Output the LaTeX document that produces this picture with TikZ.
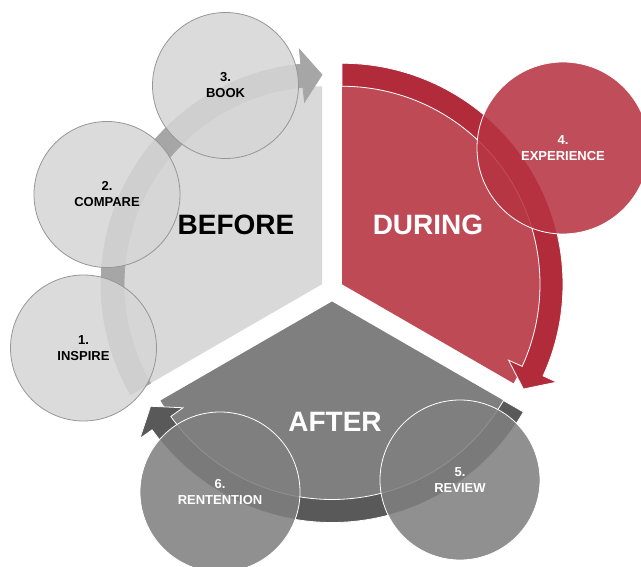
\documentclass[tikz,border=0pt]{standalone}
\usepackage{fontspec}
\setmainfont{Liberation Sans}
\usetikzlibrary{positioning}
\definecolor{beforegray}{RGB}{217, 217, 217}
\definecolor{beforeband}{RGB}{166, 166, 166}
\definecolor{beforecircle}{RGB}{214, 214, 214}
\definecolor{beforeedge}{RGB}{150, 150, 150}
\definecolor{duringred}{RGB}{190, 74, 86}
\definecolor{duringband}{RGB}{178, 43, 59}
\definecolor{duringcircle}{RGB}{183, 52, 65}
\definecolor{aftergray}{RGB}{127, 127, 127}
\definecolor{afterband}{RGB}{89, 89, 89}
\definecolor{aftercircle}{RGB}{128, 128, 128}
% curved band arrow round one phase: apex, start angle, tip angle, fill, edge
\newcommand{\phasearrow}[5]{%
  \pgfmathsetmacro\baseang{#3+5.5}
  \begin{scope}[shift={(#1)}]
    \filldraw[fill=#4, draw=#5, line width=0.8pt]
      (#2:221pt) arc[start angle=#2, end angle=\baseang, radius=221pt]
      -- (\baseang:236pt) -- (#3:209.5pt) -- (\baseang:183pt) -- (\baseang:198pt)
      arc[start angle=\baseang, end angle=#2, radius=198pt] -- cycle;
  \end{scope}}
\tikzset{
  stepcircle/.style={circle, line width=0.8pt, fill opacity=0.87, text opacity=1,
    inner sep=0pt, align=center, font=\fontsize{13}{16}\selectfont\bfseries},
  beforestep/.style={stepcircle, draw=beforeedge, fill=beforecircle, minimum size=146pt},
  duringstep/.style={stepcircle, draw=white, fill=duringcircle, text=white, minimum size=172pt},
  afterstep/.style={stepcircle, draw=white, fill=aftercircle, text=white, minimum size=160pt},
  phaselabel/.style={font=\fontsize{28}{32}\selectfont\bfseries, inner sep=0pt}
}

\begin{document}
\begin{tikzpicture}[x=1pt, y=1pt]
  \useasboundingbox (0,0) rectangle (641,566);
  % apexes of the three sectors, pulled apart from the centre
  \coordinate (beforeapex) at (322,281.75);
  \coordinate (duringapex) at (342,281.75);
  \coordinate (afterapex) at (332,264.5);
  % sectors
  \foreach \apex/\from/\col in {beforeapex/210/beforegray, duringapex/90/duringred, afterapex/-30/aftergray}
    \fill[\col] (\apex) -- ++(\from:198pt) arc[start angle=\from, delta angle=-120, radius=198pt] -- cycle;
  % arrows along the rims
  \phasearrow{beforeapex}{210}{90}{beforeband}{beforeband}
  \phasearrow{duringapex}{90}{-30}{duringband}{white}
  \phasearrow{afterapex}{-30}{-150}{afterband}{white}
  % steps
  \node[beforestep] (inspire) at (83.5,218) {1.\\INSPIRE};
  \node[beforestep] (compare) at (107,371.5) {2.\\COMPARE};
  \node[beforestep] (book) at (225.5,480.5) {3.\\BOOK};
  \node[duringstep] (experience) at (563,418) {4.\\EXPERIENCE};
  \node[afterstep] (review) at (460,86) {5.\\REVIEW};
  \node[afterstep] (retention) at (220,74) {6.\\RENTENTION};
  % phase names
  \node[phaselabel] (before) at (236,341) {BEFORE};
  \node[phaselabel, text=white] (during) at (428,341) {DURING};
  \node[phaselabel, text=white] (after) at (335,144) {AFTER};
\end{tikzpicture}
\end{document}
